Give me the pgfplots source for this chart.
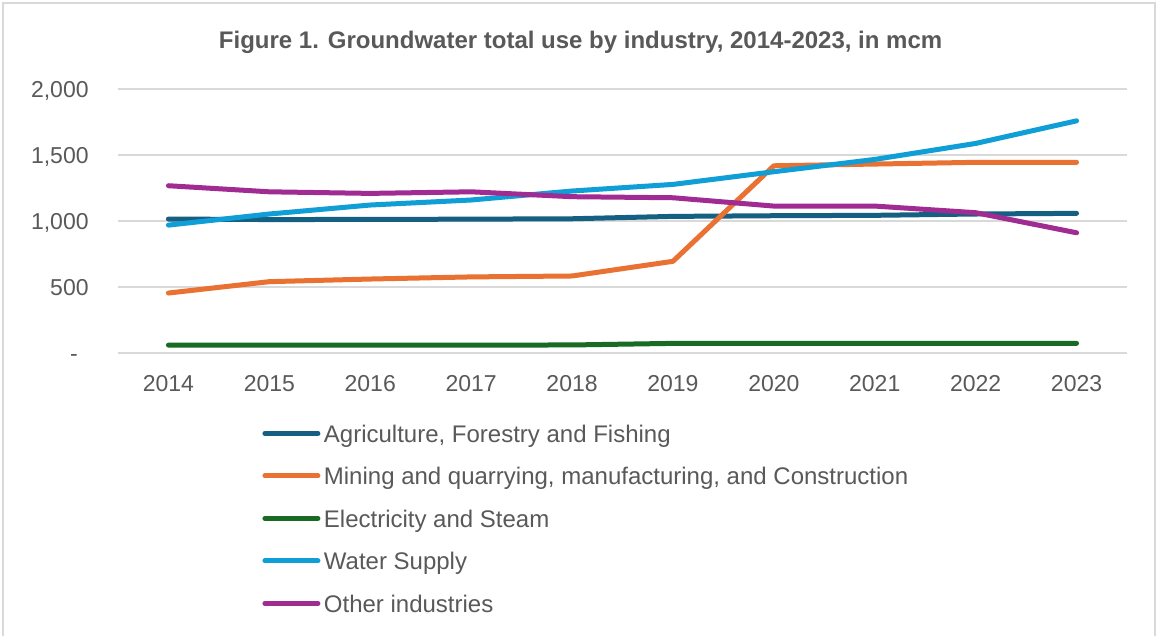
\documentclass[border=0pt]{standalone}
\usepackage{pgfplots}
\pgfplotsset{compat=1.18}
\usepackage{fontspec}
\setmainfont{Liberation Sans}
\definecolor{cAgri}{HTML}{156082}
\definecolor{cMin}{HTML}{E97132}
\definecolor{cEl}{HTML}{196B24}
\definecolor{cWat}{HTML}{0F9ED5}
\definecolor{cOth}{HTML}{A02B93}
\definecolor{txtgray}{HTML}{595959}
\definecolor{gridgray}{HTML}{D9D9D9}
\begin{document}
\begin{tikzpicture}
\path[use as bounding box] (0,0) rectangle (579pt,318pt);
\fill[white] (0,0) rectangle (579pt,318pt);
\draw[gridgray, line width=1pt] (1.5pt,-2pt) -- (1.5pt,316.5pt) -- (577.5pt,316.5pt) -- (577.5pt,-2pt);
\node[font=\fontsize{12}{14}\selectfont\bfseries, text=txtgray] at (290.3pt,297pt) {Figure 1. Groundwater total use by industry, 2014-2023, in mcm};
\begin{axis}[
  at={(59pt,141.35pt)}, anchor=south west,
  width=504.5pt, height=132.15pt, scale only axis,
  xmin=2013.5, xmax=2023.5, ymin=0, ymax=2000,
  xtick={2014,2015,2016,2017,2018,2019,2020,2021,2022,2023},
  xticklabels={2014,2015,2016,2017,2018,2019,2020,2021,2022,2023},
  ytick={0,500,1000,1500,2000},
  yticklabels={\makebox[9.2pt][l]{-},500,{1,000},{1,500},{2,000}},
  ymajorgrids, grid style={draw=gridgray, line width=0.8pt},
  axis line style={draw=none}, major tick length=0pt,
  tick label style={font=\fontsize{11.5}{13}\selectfont, text=txtgray},
  xticklabel style={anchor=base, yshift=-18.95pt},
  yticklabel style={anchor=base east, inner sep=0pt, xshift=-14.5pt, yshift=-4.1pt},
  clip=false,
  every axis plot/.append style={line width=2.5pt, line cap=round, line join=round},
  legend style={at={(0.1368,-0.2509)}, anchor=north west, draw=none, fill=none,
    font=\fontsize{12}{14}\selectfont, text=txtgray, row sep=9.25pt, column sep=1.75pt,
    nodes={inner sep=0pt, text height=9pt, text depth=3pt}},
  legend cell align=left,
  legend image code/.code={\draw[#1, line width=2.5pt, line cap=round] (1.25pt,1.3pt) -- (27.75pt,1.3pt);},
]
\addplot[cAgri] coordinates {(2014,1016)(2015,1012)(2016,1013)(2017,1015)(2018,1018)(2019,1036)(2020,1041)(2021,1044)(2022,1054)(2023,1059)};
\addlegendentry{Agriculture, Forestry and Fishing}
\addplot[cMin] coordinates {(2014,456)(2015,542)(2016,562)(2017,578)(2018,585)(2019,696)(2020,1419)(2021,1432)(2022,1445)(2023,1445)};
\addlegendentry{Mining and quarrying, manufacturing, and Construction}
\addplot[cEl] coordinates {(2014,62)(2015,62)(2016,62)(2017,62)(2018,63)(2019,75)(2020,75)(2021,75)(2022,75)(2023,75)};
\addlegendentry{Electricity and Steam}
\addplot[cWat] coordinates {(2014,970)(2015,1054)(2016,1122)(2017,1160)(2018,1228)(2019,1278)(2020,1374)(2021,1467)(2022,1588)(2023,1759)};
\addlegendentry{Water Supply}
\addplot[cOth] coordinates {(2014,1268)(2015,1222)(2016,1210)(2017,1222)(2018,1185)(2019,1177)(2020,1114)(2021,1114)(2022,1064)(2023,912)};
\addlegendentry{Other industries}
\end{axis}
\end{tikzpicture}
\end{document}
